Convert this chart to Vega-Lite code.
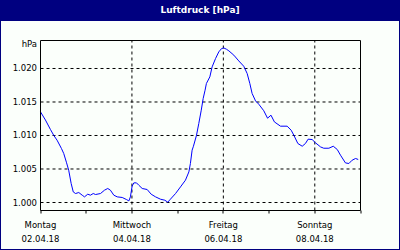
{
  "$schema": "https://vega.github.io/schema/vega-lite/v6.json",
  "width": 398,
  "height": 228,
  "autosize": {"type": "none"},
  "padding": {"left": 1, "top": 21, "right": 1, "bottom": 1},
  "background": "#000080",
  "config": {"view": {"fill": "#FBFFFB", "stroke": null}, "font": "DejaVu Sans"},
  "title": {"text": "Luftdruck [hPa]", "color": "#FFFFFF", "font": "DejaVu Sans", "fontSize": 9, "fontWeight": "bold", "anchor": "middle", "frame": "group", "orient": "top", "baseline": "middle", "offset": 2.5},
  "datasets": {
    "pressure": [
      {"t":0,"p":1013.52},{"t":2.6,"p":1012.31},{"t":5.2,"p":1010.91},{"t":7.0,"p":1010.0},{"t":8.7,"p":1009.3},{"t":11.0,"p":1008.06},{"t":12.2,"p":1007.31},{"t":13.6,"p":1006.01},{"t":14.8,"p":1004.82},{"t":16.1,"p":1002.84},{"t":17.2,"p":1001.58},{"t":18.4,"p":1001.34},{"t":20.1,"p":1001.49},{"t":21.9,"p":1001.09},{"t":23.1,"p":1000.84},{"t":24.8,"p":1001.24},{"t":26.2,"p":1001.09},{"t":27.7,"p":1001.34},{"t":28.9,"p":1001.19},{"t":31.5,"p":1001.34},{"t":33.6,"p":1001.84},{"t":35.3,"p":1002.09},{"t":36.7,"p":1001.84},{"t":38.5,"p":1001.09},{"t":40.3,"p":1000.84},{"t":42.9,"p":1000.75},{"t":45.1,"p":1000.45},{"t":46.4,"p":1000.24},{"t":47.2,"p":1000.84},{"t":48.1,"p":1002.43},{"t":49.0,"p":1002.93},{"t":50.4,"p":1002.93},{"t":51.6,"p":1002.58},{"t":53.4,"p":1002.09},{"t":56.0,"p":1001.94},{"t":58.1,"p":1001.24},{"t":60.4,"p":1000.84},{"t":63.0,"p":1000.49},{"t":65.3,"p":1000.34},{"t":66.8,"p":1000.04},{"t":68.2,"p":1000.49},{"t":70.9,"p":1001.34},{"t":73.5,"p":1002.33},{"t":76.1,"p":1003.33},{"t":77.9,"p":1004.57},{"t":78.7,"p":1005.82},{"t":79.6,"p":1007.81},{"t":80.3,"p":1008.4},{"t":81.9,"p":1010.04},{"t":83.1,"p":1011.79},{"t":84.4,"p":1013.78},{"t":85.4,"p":1015.52},{"t":86.4,"p":1016.76},{"t":87.1,"p":1017.76},{"t":88.9,"p":1018.75},{"t":90.1,"p":1020.24},{"t":91.9,"p":1021.49},{"t":93.6,"p":1022.48},{"t":95.0,"p":1022.96},{"t":96.2,"p":1023.07},{"t":97.6,"p":1022.88},{"t":98.9,"p":1022.63},{"t":101.5,"p":1021.99},{"t":104.1,"p":1021.13},{"t":106.7,"p":1020.34},{"t":108.5,"p":1019.25},{"t":109.9,"p":1017.76},{"t":111.1,"p":1016.27},{"t":112.9,"p":1015.16},{"t":114.6,"p":1014.67},{"t":117.2,"p":1013.7},{"t":119.2,"p":1012.58},{"t":121.0,"p":1013.03},{"t":122.8,"p":1012.03},{"t":126.0,"p":1011.39},{"t":129.5,"p":1011.39},{"t":131.6,"p":1010.79},{"t":133.0,"p":1010.04},{"t":135.1,"p":1008.81},{"t":137.4,"p":1008.4},{"t":139.1,"p":1008.81},{"t":140.5,"p":1009.45},{"t":142.6,"p":1009.4},{"t":144.4,"p":1008.9},{"t":147.0,"p":1008.3},{"t":148.7,"p":1008.1},{"t":151.4,"p":1008.1},{"t":153.7,"p":1008.4},{"t":155.8,"p":1007.91},{"t":157.5,"p":1007.06},{"t":160.1,"p":1005.91},{"t":161.9,"p":1005.82},{"t":163.6,"p":1006.31},{"t":165.4,"p":1006.57},{"t":166.8,"p":1006.42}
    ],
    "vgrid": [{"t":48},{"t":96},{"t":144}],
    "hgrid": [{"p":1000},{"p":1005},{"p":1010},{"p":1015},{"p":1020}],
    "frame": [{"t":0,"t2":168,"p":998.806,"p2":1024.179}]
  },
  "layer": [
    {
      "data": {"name": "vgrid"},
      "mark": {"type": "rule", "color": "#000000", "strokeWidth": 1, "strokeDash": [3, 3]},
      "encoding": {
        "x": {"field": "t", "type": "quantitative", "scale": {"domain": [0, 168], "range": [39.5, 359.5], "nice": false, "zero": false}},
        "y": {"datum": 998.806, "type": "quantitative", "scale": {"domain": [998.806, 1024.179], "range": [189.5, 19.5], "nice": false, "zero": false}},
        "y2": {"datum": 1024.179}
      }
    },
    {
      "data": {"name": "hgrid"},
      "mark": {"type": "rule", "color": "#000000", "strokeWidth": 1, "strokeDash": [3, 3]},
      "encoding": {
        "x": {"datum": 0, "type": "quantitative", "scale": {"domain": [0, 168], "range": [39.5, 359.5], "nice": false, "zero": false}},
        "x2": {"datum": 168},
        "y": {"field": "p", "type": "quantitative", "scale": {"domain": [998.806, 1024.179], "range": [189.5, 19.5], "nice": false, "zero": false}}
      }
    },
    {
      "data": {"name": "pressure"},
      "mark": {"type": "line", "color": "#0000FF", "strokeWidth": 1},
      "encoding": {
        "x": {
          "field": "t", "type": "quantitative",
          "scale": {"domain": [0, 168], "range": [39.5, 359.5], "nice": false, "zero": false},
          "axis": {
            "title": null, "values": [0, 24, 48, 72, 96, 120, 144, 168], "domain": false, "grid": false,
            "ticks": true, "tickSize": 3, "tickColor": "#000000", "tickWidth": 1, "translate": 0, "offset": -38.5,
            "labelExpr": "datum.value == 0 ? ['Montag', '02.04.18'] : datum.value == 48 ? ['Mittwoch', '04.04.18'] : datum.value == 96 ? ['Freitag', '06.04.18'] : datum.value == 144 ? ['Sonntag', '08.04.18'] : ''",
            "labelFont": "DejaVu Sans", "labelFontSize": 8.5, "labelColor": "#000000", "labelLineHeight": 14,
            "labelPadding": 7, "labelFlush": false, "labelOverlap": false, "labelBound": false, "labelAlign": "center"
          }
        },
        "y": {
          "field": "p", "type": "quantitative",
          "scale": {"domain": [998.806, 1024.179], "range": [189.5, 19.5], "nice": false, "zero": false},
          "axis": {
            "title": "hPa", "values": [1000, 1005, 1010, 1015, 1020], "domain": false, "grid": false,
            "ticks": false, "tickSize": 0, "translate": 0, "offset": -39.5,
            "labelExpr": "replace(format(datum.value, ','), ',', '.')",
            "labelFont": "DejaVu Sans", "labelFontSize": 8.5, "labelColor": "#000000", "labelPadding": 3.5,
            "labelOverlap": false, "labelBound": false, "labelFlush": false,
            "titleFont": "DejaVu Sans", "titleFontSize": 8.5, "titleFontWeight": "normal", "titleColor": "#000000",
            "titleAngle": 0, "titleAlign": "right", "titleBaseline": "middle", "titleX": -3.5, "titleY": 23
          }
        }
      }
    },
    {
      "data": {"name": "frame"},
      "mark": {"type": "rect", "fillOpacity": 0, "stroke": "#000000", "strokeWidth": 1},
      "encoding": {
        "x": {"field": "t", "type": "quantitative", "scale": {"domain": [0, 168], "range": [39.5, 359.5], "nice": false, "zero": false}},
        "x2": {"field": "t2"},
        "y": {"field": "p", "type": "quantitative", "scale": {"domain": [998.806, 1024.179], "range": [189.5, 19.5], "nice": false, "zero": false}},
        "y2": {"field": "p2"}
      }
    }
  ]
}
